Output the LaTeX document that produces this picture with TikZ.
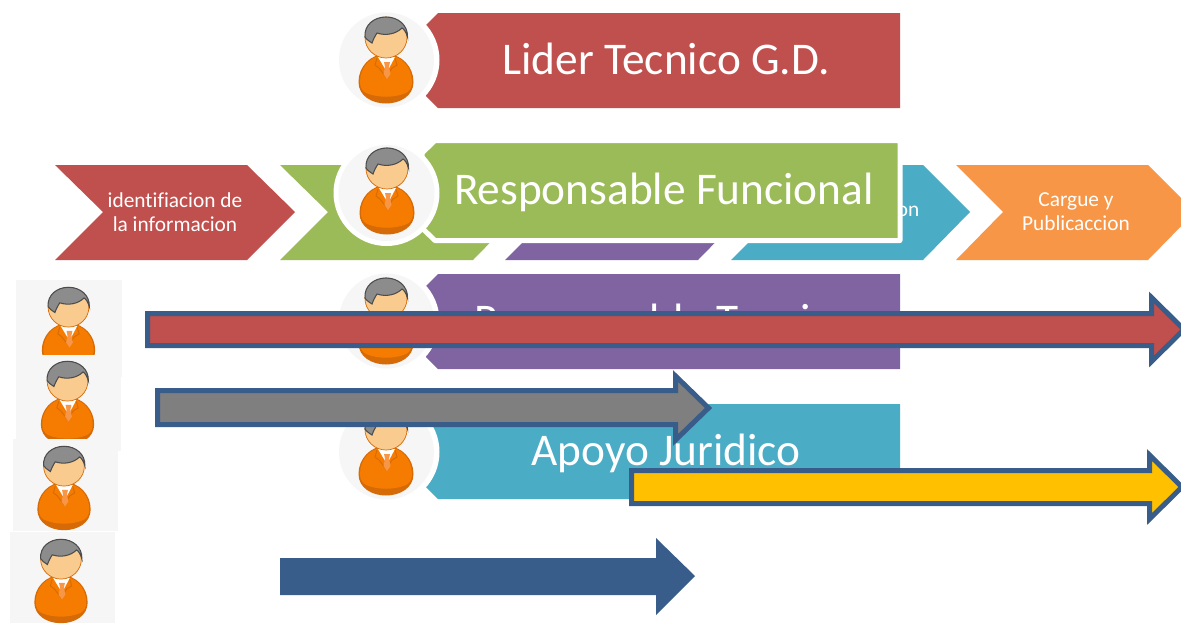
\documentclass[tikz,border=0pt]{standalone}
\usepackage{fontspec}
\setmainfont{Carlito}[Ligatures=NoCommon]
\definecolor{rojo}{HTML}{C0504D}
\definecolor{verde}{HTML}{9BBB59}
\definecolor{morado}{HTML}{8064A2}
\definecolor{azul}{HTML}{4BACC6}
\definecolor{naranja}{HTML}{F79646}
\definecolor{gris}{HTML}{7F7F7F}
\definecolor{amarillo}{HTML}{FFC000}
\definecolor{borde}{HTML}{385D8A}
\definecolor{fondo}{HTML}{F6F6F6}
\definecolor{traje}{HTML}{F57C00}
\definecolor{trajeosc}{HTML}{D56A06}
\definecolor{piel}{HTML}{F9CB8F}
\tikzset{
 titulo/.style={text=white,font=\fontsize{25.8}{30}\selectfont,inner sep=0pt,anchor=base},
 paso/.style={text=white,font=\fontsize{12.15}{13.6}\selectfont,align=center,inner sep=0pt},
 flecha/.style={draw=borde,line width=5*0.02cm,miter limit=10},
 person/.pic={
  \fill[trajeosc](0,-6)..controls(-16,-6)and(-27.5,7)..(-27.5,22)..controls(-27.5,36)and(-14,43.5)..(0,43.5)..controls(14,43.5)and(27.5,36)..(27.5,22)..controls(27.5,7)and(16,-6)..(0,-6)--cycle;%cuerpo
  \fill[traje](0,-5)..controls(-15,-5)and(-26,7)..(-26,22)..controls(-26,27)and(-24,31)..(-20,33)..controls(-8,38)and(8,38)..(20,33)..controls(24,31)and(26,27)..(26,22)..controls(26,7)and(15,-5)..(0,-5)--cycle;
  \fill[white](-8,-3)--(9,-3)--(1,12)--cycle;%cuello
  \draw[trajeosc,line width=0.5pt](-9,-2)--(-11,5)--(-7,8)--(0,17)--(6,8)--(11,5)--(9,-2);
  \fill[naranja](-2,2)--(4,2)--(3,7)--(4.5,14)--(1,19)--(-2.5,14)--(-1,7)--cycle;%corbata
  \fill[piel,draw=trajeosc,line width=0.4pt](0,-22.5)ellipse(21 and 20.5);%cara
  \fill[gris!90,draw=black!70,line width=0.6pt](-21,-23)..controls(-22,-35)and(-12,-43)..(0,-43)..controls(12,-43)and(22,-35)..(21.5,-23)..controls(20,-28)and(18,-31)..(16,-32)..controls(10,-26)and(0,-24)..(-9,-27)..controls(-11,-24)and(-13,-20)..(-14,-17)..controls(-17,-19)and(-20,-21)..(-21,-23)--cycle;%pelo
 }
}
\begin{document}
\begin{tikzpicture}[x=0.02cm,y=-0.02cm]
\clip(0,0)rectangle(1181,623);
\fill[rojo](55,165)--(247,165)--(295,212)--(247,260)--(55,260)--(103,212)--cycle;%pasos
\fill[verde](280,165)--(473,165)--(520,212)--(473,260)--(280,260)--(328,212)--cycle;
\fill[morado](505,165)--(698,165)--(745,212)--(698,260)--(505,260)--(553,212)--cycle;
\fill[azul](731,165)--(923,165)--(970,212)--(923,260)--(731,260)--(779,212)--cycle;
\fill[naranja](956,165)--(1148,165)--(1195,212)--(1148,260)--(956,260)--(1003,212)--cycle;
\node[paso](identificacion)at(175,212){identifiacion de\\la informacion};
\node[paso](validacion)at(908,211){on};
\node[paso](cargue)at(1076,212){Cargue y\\Publicaccion};
%lider
\fill[rojo](438,13)--(900,13)--(900,108)--(438,108)--(426,96)--(426,25)--cycle;
\fill[white](386.5,60)circle(53);
\fill[fondo](386.5,60)circle(47.5);
\pic at(386,60){person};
\node[titulo](lider)at(666,74){Lider Tecnico G.D.};
%responsable funcional
\fill[verde,draw=white,line width=5*0.02cm,line join=round](435,140.5)--(900,140.5)--(900,240.5)--(435,240.5)--(422,228)--(422,153)--cycle;
\fill[white](386.5,193)circle(53);
\fill[fondo](386.5,193)circle(48);
\pic at(387,191){person};
\node[titulo](funcional)at(664,204){Responsable Funcional};
%responsable tecnico
\fill[morado](438,274)--(900,274)--(900,369)--(438,369)--(426,357)--(426,286)--cycle;
\fill[white](386.5,321)circle(53);
\fill[fondo](386.5,321)circle(47.5);
\pic at(386,321){person};
\node[titulo](tecnico)at(664,335){Responsable Tecnico};
%apoyo juridico
\fill[azul](438,404)--(900,404)--(900,499)--(438,499)--(426,487)--(426,416)--cycle;
\fill[white](386.5,452)circle(53);
\fill[fondo](386.5,452)circle(47.5);
\pic at(386,452){person};
\node[titulo](apoyo)at(666,465){Apoyo Juridico};
%flechas
\draw[flecha,fill=rojo](147.5,313.5)--(1151.5,313.5)--(1151.5,297.5)--(1184,329.5)--(1151.5,361.5)--(1151.5,345.5)--(147.5,345.5)--cycle;
\draw[flecha,fill=gris](157.5,390.5)--(675.5,390.5)--(675.5,376)--(708.5,408)--(675.5,440)--(675.5,424.5)--(157.5,424.5)--cycle;
\draw[flecha,fill=amarillo](631.5,470.5)--(1149.5,470.5)--(1149.5,455)--(1182,487)--(1149.5,519)--(1149.5,503.5)--(631.5,503.5)--cycle;
\fill[borde](280,558)--(656,558)--(656,538)--(695,576)--(656,615)--(656,595)--(280,595)--cycle;
%personas
\fill[fondo](16,280)rectangle(122,377);
\fill[fondo](16,377)rectangle(121,451);
\fill[fondo](13,439)rectangle(118,531);
\fill[fondo](10,532)rectangle(115,623);
\begin{scope}
\clip(16,280)rectangle(122,354);
\pic[scale=0.97]at(68.5,329){person};
\end{scope}
\begin{scope}
\clip(16,354)rectangle(121,438);
\pic[scale=0.97]at(67.5,403){person};
\end{scope}
\pic[scale=0.97]at(64,488){person};
\pic[scale=0.97]at(61,581){person};
\end{tikzpicture}
\end{document}
